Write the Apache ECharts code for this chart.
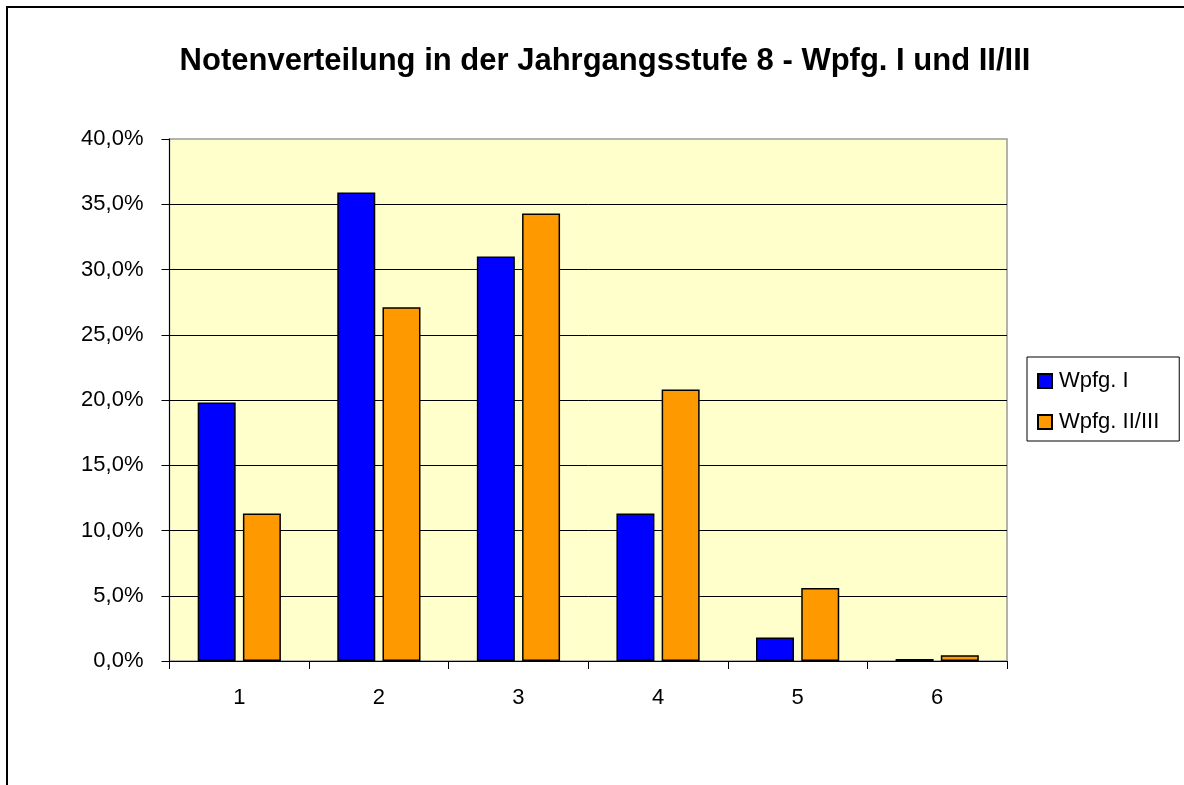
<!DOCTYPE html>
<html>
<head>
<meta charset="utf-8">
<script src="https://cdn.jsdelivr.net/npm/echarts@6/dist/echarts.min.js"></script>
<style>
  html, body { margin: 0; padding: 0; background: #fff; }
</style>
</head>
<body>
<div id="myChart" style="width:1184px;height:785px;"></div>
<script>
// Noten 1-6
var categories = ['1', '2', '3', '4', '5', '6'];
// Anteile in Prozent
var wpfgI = [19.8, 35.9, 31.0, 11.3, 1.8, 0.15];
var wpfgIIIII = [11.3, 27.1, 34.3, 20.8, 5.6, 0.45];
var seriesNames = ['Wpfg. I', 'Wpfg. II/III'];

var font = 'Arial, "Liberation Sans", sans-serif';

var myChart = echarts.init(document.getElementById('myChart'));

myChart.setOption({
  backgroundColor: '#fff',
  animation: false,
  title: {
    text: 'Notenverteilung in der Jahrgangsstufe 8 - Wpfg. I und II/III',
    left: 600,
    textAlign: 'center',
    top: 41,
    textStyle: { fontFamily: font, fontSize: 31, fontWeight: 'bold', color: '#000' }
  },
  // Rahmen links/oben
  graphic: [{
    type: 'rect',
    shape: { x: 7, y: 7, width: 1400, height: 1000 },
    style: { fill: 'none', stroke: '#000', lineWidth: 2 },
    silent: true
  }],
  legend: {
    orient: 'vertical',
    left: 1027,
    top: 357,
    padding: [12, 20, 7, 10],
    itemGap: 17,
    itemWidth: 14,
    itemHeight: 14,
    icon: 'rect',
    borderColor: '#000',
    borderWidth: 1,
    backgroundColor: '#fff',
    textStyle: { fontFamily: font, fontSize: 22, color: '#000', lineHeight: 24, padding: [0, 0, 0, 2] },
    data: seriesNames
  },
  grid: {
    left: 169.5,
    right: 177,
    top: 139,
    bottom: 124,
    show: true,
    backgroundColor: '#FFFFCC',
    borderColor: '#999',
    borderWidth: 1.5
  },
  xAxis: {
    type: 'category',
    data: categories,
    axisLine: { lineStyle: { color: '#000', width: 1 } },
    axisTick: { show: true, length: 8, lineStyle: { color: '#000' } },
    axisLabel: { margin: 26, fontFamily: font, fontSize: 22, color: '#000' }
  },
  yAxis: {
    type: 'value',
    min: 0,
    max: 40,
    interval: 5,
    axisLine: { show: true, lineStyle: { color: '#000', width: 1 } },
    axisTick: { show: true, length: 8, lineStyle: { color: '#000' } },
    splitLine: { showMaxLine: false, lineStyle: { color: '#000', width: 1 } },
    axisLabel: {
      margin: 26,
      fontFamily: font,
      fontSize: 22,
      color: '#000',
      formatter: function (v) { return v.toFixed(1).replace('.', ',') + '%'; }
    }
  },
  series: [
    {
      name: seriesNames[0],
      type: 'bar',
      data: wpfgI,
      barWidth: 38,
      barGap: '19%',
      itemStyle: { color: '#0000FF', borderColor: '#000', borderWidth: 1.5 }
    },
    {
      name: seriesNames[1],
      type: 'bar',
      data: wpfgIIIII,
      barWidth: 38,
      itemStyle: { color: '#FF9900', borderColor: '#000', borderWidth: 1.5 }
    }
  ]
});
</script>
</body>
</html>
